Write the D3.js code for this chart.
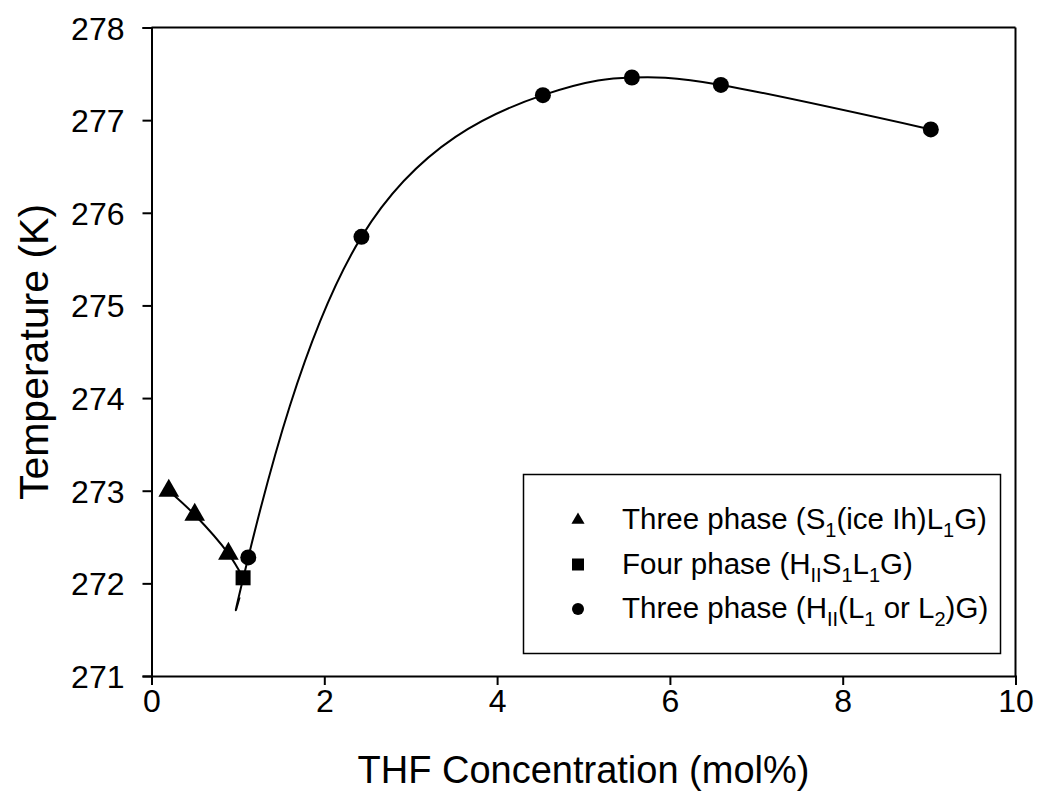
<!DOCTYPE html>
<html>
<head>
<meta charset="utf-8">
<script src="https://cdn.jsdelivr.net/npm/d3@7"></script>
<style>
  html, body { margin: 0; padding: 0; background: #fff; }
  svg { display: block; font-family: "Liberation Sans", Arial, sans-serif; }
</style>
</head>
<body>
<svg id="chart" width="1037" height="808"></svg>
<script>
// ---- data ----
const xTicks = [0, 2, 4, 6, 8, 10];
const yTicks = [271, 272, 273, 274, 275, 276, 277, 278];

// Three phase (S1(ice Ih)L1G)
const triX = [0.20, 0.50, 0.89];
const triY = [273.00, 272.74, 272.32];
// Four phase (HII S1 L1 G)
const sqX = [1.06];
const sqY = [272.06];
// Three phase (HII(L1 or L2)G)
const cirX = [1.12, 2.43, 4.53, 5.56, 6.59, 9.02];
const cirY = [272.28, 275.74, 277.27, 277.46, 277.38, 276.90];
// lower end of the fitted curve through the HII points
const tailX = [1.02];
const tailY = [271.85];

const legendLabels = [
  [["Three phase (S", 0], ["1", 1], ["(ice Ih)L", 0], ["1", 1], ["G)", 0]],
  [["Four phase (H", 0], ["II", 1], ["S", 0], ["1", 1], ["L", 0], ["1", 1], ["G)", 0]],
  [["Three phase (H", 0], ["II", 1], ["(L", 0], ["1", 1], [" or L", 0], ["2", 1], [")G)", 0]]
];
const xTitle = "THF Concentration (mol%)";
const yTitle = "Temperature (K)";

// ---- layout ----
const svg = d3.select("#chart");
const pL = 151.5, pR = 1015.5, pT = 27.5, pB = 676;
const x = d3.scaleLinear().domain([0, 10]).range([pL, pR]);
const y = d3.scaleLinear().domain([271, 278]).range([pB, pT]);

// frame (top & right)
svg.append("line").attr("x1", pL).attr("x2", pR).attr("y1", pT).attr("y2", pT)
  .attr("stroke", "#000").attr("stroke-width", 2);
svg.append("line").attr("x1", pR).attr("x2", pR).attr("y1", pT).attr("y2", pB)
  .attr("stroke", "#000").attr("stroke-width", 2);

// axes
const xAxis = svg.append("g").attr("transform", `translate(0,${pB})`)
  .call(d3.axisBottom(x).tickValues(xTicks).tickSize(9).tickPadding(3).tickFormat(d3.format("d")));
const yAxis = svg.append("g").attr("transform", `translate(${pL},0)`)
  .call(d3.axisLeft(y).tickValues(yTicks).tickSize(9).tickPadding(18).tickFormat(d3.format("d")));
[xAxis, yAxis].forEach(g => {
  g.select(".domain").attr("stroke", "#000").attr("stroke-width", 2);
  g.selectAll(".tick line").attr("stroke", "#000").attr("stroke-width", 2);
  g.selectAll(".tick text").attr("fill", "#000").style("font-size", "32px")
    .style("font-family", '"Liberation Sans", Arial, sans-serif');
});
xAxis.selectAll(".tick text").attr("dy", "0.75em");
yAxis.selectAll(".tick text").attr("dy", "0.36em");

// titles
svg.append("text").attr("x", (pL + pR) / 2).attr("y", 783)
  .attr("text-anchor", "middle").style("font-size", "38px").text(xTitle);
svg.append("text").attr("transform", `translate(48,352) rotate(-90)`)
  .attr("text-anchor", "middle").style("font-size", "41px").text(yTitle);

// curves
const triGen = d3.line().x(d => x(d[0])).y(d => y(d[1])).curve(d3.curveCatmullRom.alpha(0.5));
const cirGen = d3.line().x(d => x(d[0])).y(d => y(d[1])).curve(d3.curveNatural);
const triLine = triX.map((v, i) => [v, triY[i]]).concat(sqX.map((v, i) => [v, sqY[i]]));
const cirLine = tailX.map((v, i) => [v, tailY[i]]).concat(cirX.map((v, i) => [v, cirY[i]]));
svg.append("path").attr("d", triGen(triLine)).attr("fill", "none")
  .attr("stroke", "#000").attr("stroke-width", 2);
svg.append("path").attr("d", cirGen(cirLine)).attr("fill", "none")
  .attr("stroke", "#000").attr("stroke-width", 2);

// markers
const triSym = d3.symbol().type(d3.symbolTriangle);
svg.selectAll(".tri").data(triX.map((v, i) => [v, triY[i]])).join("path")
  .attr("d", triSym.size(185)())
  .attr("transform", d => `translate(${x(d[0])},${y(d[1])})`).attr("fill", "#000");
svg.selectAll(".sq").data(sqX.map((v, i) => [v, sqY[i]])).join("rect")
  .attr("x", d => x(d[0]) - 7.5).attr("y", d => y(d[1]) - 7.5)
  .attr("width", 15).attr("height", 15).attr("fill", "#000");
svg.selectAll(".cir").data(cirX.map((v, i) => [v, cirY[i]])).join("circle")
  .attr("cx", d => x(d[0])).attr("cy", d => y(d[1])).attr("r", 8).attr("fill", "#000");

// legend
svg.append("rect").attr("x", 523.5).attr("y", 474.5).attr("width", 477).attr("height", 179)
  .attr("fill", "none").attr("stroke", "#000").attr("stroke-width", 1.5);
const rowY = [519, 564, 608];
const symX = 578, textX = 622;
svg.append("path").attr("d", d3.symbol().type(d3.symbolTriangle).size(75)())
  .attr("transform", `translate(${symX},${rowY[0] + 1})`).attr("fill", "#000");
svg.append("rect").attr("x", symX - 6).attr("y", rowY[1] - 5.5).attr("width", 12).attr("height", 12).attr("fill", "#000");
svg.append("circle").attr("cx", symX).attr("cy", rowY[2] + 1).attr("r", 6).attr("fill", "#000");
legendLabels.forEach((parts, i) => {
  const t = svg.append("text").attr("x", textX).attr("y", rowY[i] + 10).style("font-size", "29.5px");
  let shifted = false;
  parts.forEach(([s, sub]) => {
    const ts = t.append("tspan").text(s);
    if (sub) {
      ts.style("font-size", "20px").attr("dy", shifted ? 0 : 8);
      shifted = true;
    } else {
      ts.attr("dy", shifted ? -8 : 0);
      shifted = false;
    }
  });
});
</script>
</body>
</html>
